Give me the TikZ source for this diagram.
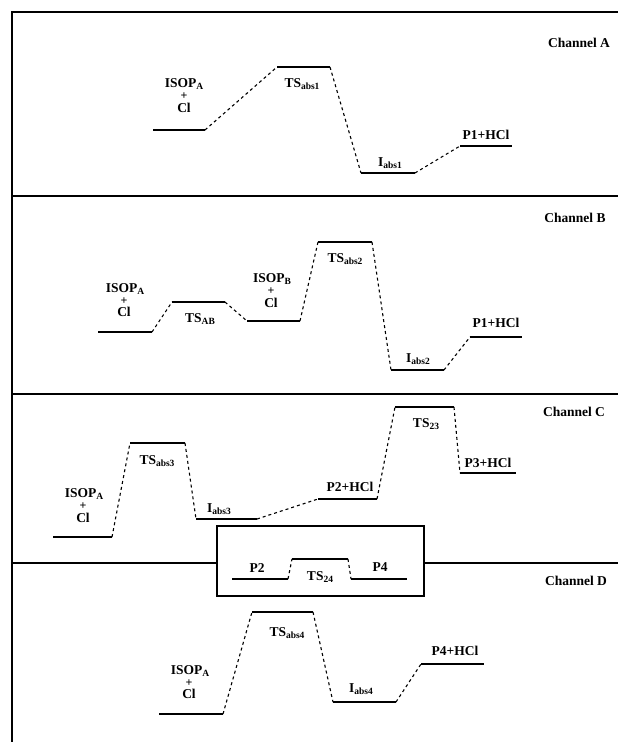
\documentclass[tikz,border=0pt]{standalone}
\usepackage{fontspec}
\setmainfont{Liberation Serif}
\newcommand\sbs[1]{\raisebox{-0.35ex}{\fontsize{9.5}{9.5}\selectfont #1}}
\begin{document}
\begin{tikzpicture}[x=1pt,y=-1pt,
  frame/.style={line width=1.3pt},
  level/.style={line width=1.5pt},
  conn/.style={line width=1.1pt, dash pattern=on 3pt off 3pt},
  lbl/.style={font=\bfseries\fontsize{13.5}{13.5}\selectfont, inner sep=0pt, anchor=base},
  plus/.style={font=\bfseries\fontsize{12}{12}\selectfont, inner sep=0pt, anchor=base},
]
\useasboundingbox (0,0) rectangle (618,742);
% ---------- frame ----------
\coordinate (tl) at (12,12);
\coordinate (tr) at (618,12);
\coordinate (bl) at (12,742);
\coordinate (abL) at (12,196);  \coordinate (abR) at (618,196);
\coordinate (bcL) at (12,394);  \coordinate (bcR) at (618,394);
\coordinate (cdL) at (12,563);  \coordinate (cdR) at (618,563);
\coordinate (bxTL) at (217,526); \coordinate (bxBR) at (424,596);
\coordinate (cdM1) at (217,563); \coordinate (cdM2) at (424,563);
\draw[frame] (tr) -- (tl) -- (bl);
\draw[frame] (abL) -- (abR);
\draw[frame] (bcL) -- (bcR);
\draw[frame] (cdL) -- (cdM1);
\draw[frame] (cdM2) -- (cdR);
\draw[frame] (bxTL) rectangle (bxBR);
% ---------- Channel A ----------
\coordinate (a1l) at (153,130); \coordinate (a1r) at (205,130);
\coordinate (a2l) at (277,67);  \coordinate (a2r) at (330,67);
\coordinate (a3l) at (361,173); \coordinate (a3r) at (415,173);
\coordinate (a4l) at (460,146); \coordinate (a4r) at (512,146);
\foreach \i in {1,2,3,4} {\draw[level] (a\i l) -- (a\i r);}
\draw[conn] (a1r) -- (a2l);
\draw[conn] (a2r) -- (a3l);
\draw[conn] (a3r) -- (a4l);
\node[lbl] (aIa) at (184,87.5) {ISOP\sbs{A}};
\node[plus] (aIb) at (184,99.5) {+};
\node[lbl] (aIc) at (184,112.5) {Cl};
\node[lbl] (aTS) at (302,87.5) {TS\sbs{abs1}};
\node[lbl] (aI) at (390,166.5) {I\sbs{abs1}};
\node[lbl] (aP) at (486,139.5) {P1+HCl};
\node[lbl] (aCh) at (579,47.5) {Channel A};
% ---------- Channel B ----------
\coordinate (b1l) at (98,332);  \coordinate (b1r) at (152,332);
\coordinate (b2l) at (172,302); \coordinate (b2r) at (225,302);
\coordinate (b3l) at (247,321); \coordinate (b3r) at (300,321);
\coordinate (b4l) at (318,242); \coordinate (b4r) at (372,242);
\coordinate (b5l) at (391,370); \coordinate (b5r) at (444,370);
\coordinate (b6l) at (470,337); \coordinate (b6r) at (522,337);
\foreach \i in {1,...,6} {\draw[level] (b\i l) -- (b\i r);}
\draw[conn] (b1r) -- (b2l);
\draw[conn] (b2r) -- (b3l);
\draw[conn] (b3r) -- (b4l);
\draw[conn] (b4r) -- (b5l);
\draw[conn] (b5r) -- (b6l);
\node[lbl] (bIa) at (125,292.5) {ISOP\sbs{A}};
\node[plus] (bIb) at (124,304.5) {+};
\node[lbl] (bIc) at (124,316.5) {Cl};
\node[lbl] (bTSab) at (200,322.5) {TS\sbs{AB}};
\node[lbl] (bIBa) at (272,282.5) {ISOP\sbs{B}};
\node[plus] (bIBb) at (271,294.5) {+};
\node[lbl] (bIBc) at (271,307) {Cl};
\node[lbl] (bTS) at (345,262.5) {TS\sbs{abs2}};
\node[lbl] (bI) at (418,362.5) {I\sbs{abs2}};
\node[lbl] (bP) at (496,327.5) {P1+HCl};
\node[lbl] (bCh) at (575,222.5) {Channel B};
% ---------- Channel C ----------
\coordinate (c1l) at (53,537);  \coordinate (c1r) at (112,537);
\coordinate (c2l) at (130,443); \coordinate (c2r) at (185,443);
\coordinate (c3l) at (196,519); \coordinate (c3r) at (257,519);
\coordinate (c4l) at (318,499); \coordinate (c4r) at (377,499);
\coordinate (c5l) at (395,407); \coordinate (c5r) at (454,407);
\coordinate (c6l) at (460,473); \coordinate (c6r) at (516,473);
\foreach \i in {1,...,6} {\draw[level] (c\i l) -- (c\i r);}
\draw[conn] (c1r) -- (c2l);
\draw[conn] (c2r) -- (c3l);
\draw[conn] (c3r) -- (c4l);
\draw[conn] (c4r) -- (c5l);
\draw[conn] (c5r) -- (c6l);
\node[lbl] (cIa) at (84,497.5) {ISOP\sbs{A}};
\node[plus] (cIb) at (83,509.5) {+};
\node[lbl] (cIc) at (83,522) {Cl};
\node[lbl] (cTS) at (157,464.5) {TS\sbs{abs3}};
\node[lbl] (cI) at (219,512.5) {I\sbs{abs3}};
\node[lbl] (cP2) at (350,491.5) {P2+HCl};
\node[lbl] (cTS23) at (426,427.5) {TS\sbs{23}};
\node[lbl] (cP3) at (488,467.5) {P3+HCl};
\node[lbl] (cCh) at (574,416.5) {Channel C};
% ---------- inset box ----------
\coordinate (e1l) at (232,579); \coordinate (e1r) at (288,579);
\coordinate (e2l) at (292,559); \coordinate (e2r) at (348,559);
\coordinate (e3l) at (351,579); \coordinate (e3r) at (407,579);
\foreach \i in {1,2,3} {\draw[level] (e\i l) -- (e\i r);}
\draw[conn] (e1r) -- (e2l);
\draw[conn] (e2r) -- (e3l);
\node[lbl] (eP2) at (257,572.5) {P2};
\node[lbl] (eTS) at (320,580.5) {TS\sbs{24}};
\node[lbl] (eP4) at (380,571.5) {P4};
% ---------- Channel D ----------
\coordinate (d1l) at (159,714); \coordinate (d1r) at (223,714);
\coordinate (d2l) at (252,612); \coordinate (d2r) at (313,612);
\coordinate (d3l) at (333,702); \coordinate (d3r) at (396,702);
\coordinate (d4l) at (421,664); \coordinate (d4r) at (484,664);
\foreach \i in {1,2,3,4} {\draw[level] (d\i l) -- (d\i r);}
\draw[conn] (d1r) -- (d2l);
\draw[conn] (d2r) -- (d3l);
\draw[conn] (d3r) -- (d4l);
\node[lbl] (dIa) at (190,674.5) {ISOP\sbs{A}};
\node[plus] (dIb) at (189,686.5) {+};
\node[lbl] (dIc) at (189,698.5) {Cl};
\node[lbl] (dTS) at (287,636.5) {TS\sbs{abs4}};
\node[lbl] (dI) at (361,692.5) {I\sbs{abs4}};
\node[lbl] (dP) at (455,655.5) {P4+HCl};
\node[lbl] (dCh) at (576,585.5) {Channel D};
\end{tikzpicture}
\end{document}
